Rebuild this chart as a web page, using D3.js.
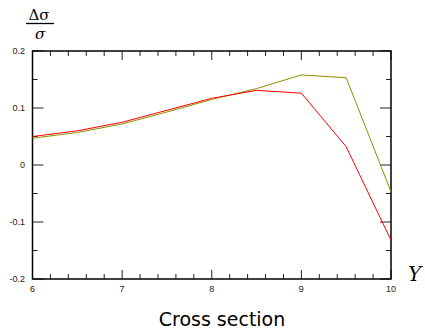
<!DOCTYPE html>
<html><head><meta charset="utf-8">
<script src="https://cdn.jsdelivr.net/npm/d3@7"></script>
<style>body{margin:0;background:#fff}</style>
</head><body>
<svg id="c" width="425" height="331"></svg>
<script>
const xs = [6, 6.5, 7, 7.5, 8, 8.5, 9, 9.5, 10];
const redVals = [0.050, 0.060, 0.075, 0.096, 0.117, 0.131, 0.126, 0.032, -0.132];
const oliveVals = [0.047, 0.057, 0.072, 0.093, 0.115, 0.134, 0.158, 0.153, -0.047];
const xTicks = [6, 7, 8, 9, 10];
const yTicks = [-0.2, -0.1, 0, 0.1, 0.2];
const xTickLabels = ["6", "7", "8", "9", "10"];
const yTickLabels = ["-0.2", "-0.1", "0", "0.1", "0.2"];

const svg = d3.select("#c");
const L = 32.5, R = 391, T = 51, B = 279;
const x = d3.scaleLinear().domain([6, 10]).range([L, R]);
const y = d3.scaleLinear().domain([-0.2, 0.2]).range([B, T]);

const minorX = d3.range(6, 10.001, 0.2);
const minorY = d3.range(-0.2, 0.2001, 0.05);

const g = svg.append("g");
minorX.forEach(v => {
  const major = Math.abs(v - Math.round(v)) < 1e-6;
  const len = major ? 9 : 5;
  g.append("line").attr("x1", x(v)).attr("x2", x(v)).attr("y1", B).attr("y2", B - len).attr("stroke", "#222").attr("stroke-width", 1);
  g.append("line").attr("x1", x(v)).attr("x2", x(v)).attr("y1", T).attr("y2", T + len).attr("stroke", "#222").attr("stroke-width", 1);
});
minorY.forEach(v => {
  const major = Math.abs(v * 10 - Math.round(v * 10)) < 1e-6;
  const len = major ? 11 : 5;
  g.append("line").attr("x1", L).attr("x2", L + len).attr("y1", y(v)).attr("y2", y(v)).attr("stroke", "#222").attr("stroke-width", 1);
  g.append("line").attr("x1", R).attr("x2", R - len).attr("y1", y(v)).attr("y2", y(v)).attr("stroke", "#222").attr("stroke-width", 1);
});
g.append("rect").attr("x", L).attr("y", T).attr("width", R - L).attr("height", B - T)
  .attr("fill", "none").attr("stroke", "#000").attr("stroke-width", 1.5);

xTicks.forEach((v, i) => {
  svg.append("text").attr("x", x(v)).attr("y", B + 13).attr("text-anchor", "middle")
    .attr("font-family", "Liberation Sans, Arial, sans-serif").attr("font-size", 9).attr("fill", "#222")
    .text(xTickLabels[i]);
});
yTicks.forEach((v, i) => {
  svg.append("text").attr("x", 25).attr("y", y(v) + 3).attr("text-anchor", "end")
    .attr("font-family", "Liberation Sans, Arial, sans-serif").attr("font-size", 9).attr("fill", "#222")
    .text(yTickLabels[i]);
});

const line = d3.line().x((d, i) => x(xs[i])).y(d => y(d));
svg.append("path").datum(oliveVals).attr("d", line).attr("fill", "none").attr("stroke", "#8f8f00").attr("stroke-width", 1);
svg.append("path").datum(redVals).attr("d", line).attr("fill", "none").attr("stroke", "#ff0000").attr("stroke-width", 1);

svg.append("text").attr("x", 222).attr("y", 326).attr("text-anchor", "middle")
  .attr("font-family", "DejaVu Sans, sans-serif").attr("font-size", 19).attr("fill", "#000").text("Cross section");
svg.append("text").attr("x", 408).attr("y", 281).attr("font-family", "DejaVu Serif, serif")
  .attr("font-style", "italic").attr("font-size", 20).attr("fill", "#000").text("Y");
svg.append("text").attr("x", 39).attr("y", 20).attr("text-anchor", "middle")
  .attr("font-family", "DejaVu Serif, serif").attr("font-size", 15).attr("fill", "#000").text("Δ\u03C3");
svg.append("line").attr("x1", 26).attr("x2", 54).attr("y1", 23.5).attr("y2", 23.5).attr("stroke", "#000").attr("stroke-width", 1.3);
svg.append("text").attr("x", 40).attr("y", 39).attr("text-anchor", "middle")
  .attr("font-family", "DejaVu Serif, serif").attr("font-style", "italic").attr("font-size", 15).attr("fill", "#000").text("\u03C3");
</script>
</body></html>
